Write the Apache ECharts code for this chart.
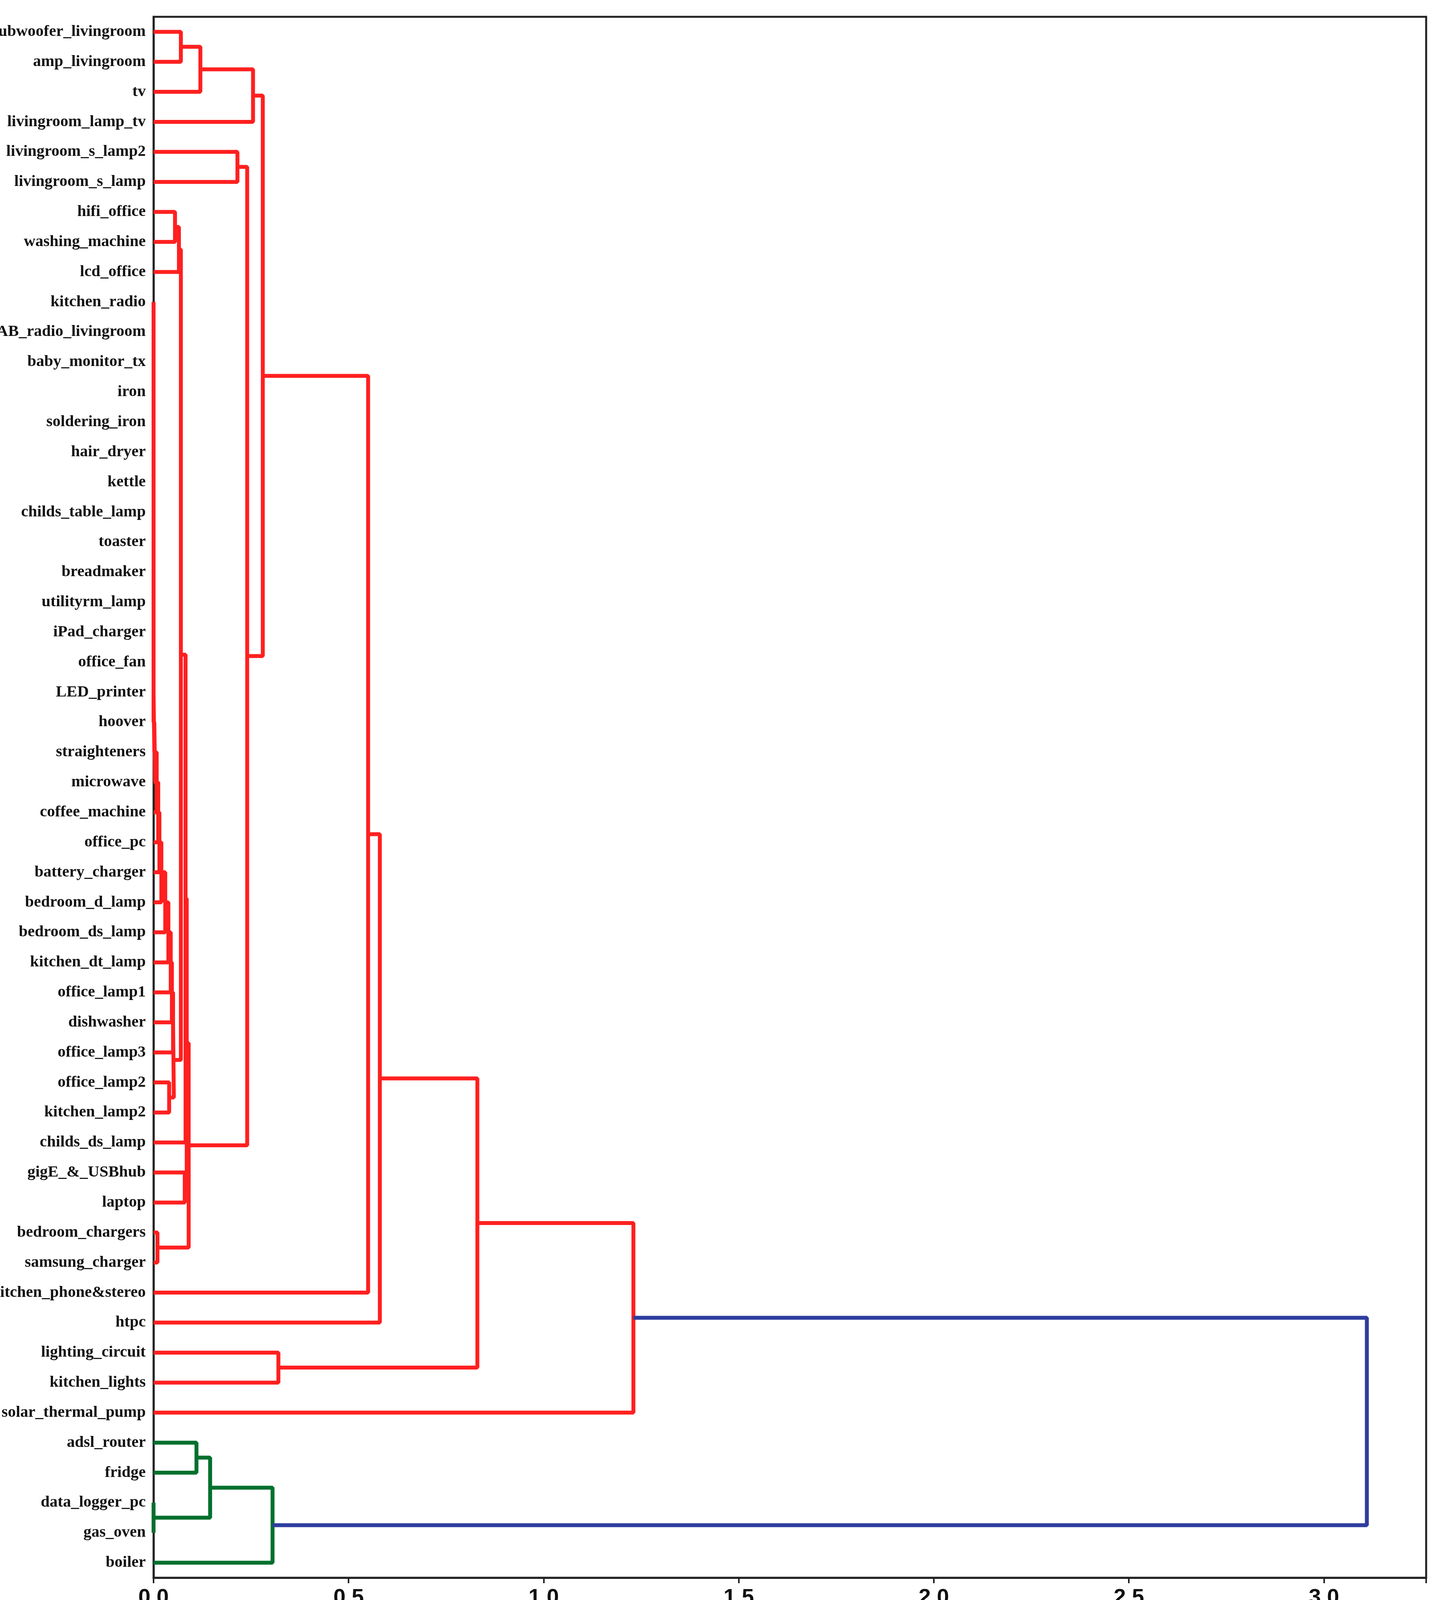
<!DOCTYPE html>
<html>
<head>
<meta charset="utf-8">
<script src="https://cdn.jsdelivr.net/npm/echarts@6/dist/echarts.min.js"></script>
<style>html,body{margin:0;padding:0;background:#fff}#main{width:3688px;height:4195px}</style>
</head>
<body>
<div id="main"></div>
<script>
// leaf labels, top to bottom
var leaves = ['subwoofer_livingroom','amp_livingroom','tv','livingroom_lamp_tv','livingroom_s_lamp2','livingroom_s_lamp',
  'hifi_office','washing_machine','lcd_office','kitchen_radio','DAB_radio_livingroom','baby_monitor_tx','iron',
  'soldering_iron','hair_dryer','kettle','childs_table_lamp','toaster','breadmaker','utilityrm_lamp','iPad_charger',
  'office_fan','LED_printer','hoover','straighteners','microwave','coffee_machine','office_pc','battery_charger',
  'bedroom_d_lamp','bedroom_ds_lamp','kitchen_dt_lamp','office_lamp1','dishwasher','office_lamp3','office_lamp2',
  'kitchen_lamp2','childs_ds_lamp','gigE_&_USBhub','laptop','bedroom_chargers','samsung_charger',
  'kitchen_phone&stereo','htpc','lighting_circuit','kitchen_lights','solar_thermal_pump','adsl_router','fridge',
  'data_logger_pc','gas_oven','boiler'];

// merges: [name, left, right, height]  (left/right = leaf index or merge name)
var redMerges = [
  ['a',0,1,0.07],['b','a',2,0.12],['c','b',3,0.255],['d',4,5,0.215],
  ['h1',6,7,0.055],['h2','h1',8,0.065],
  ['z1',9,10,0],['z2','z1',11,0],['z3','z2',12,0],['z4','z3',13,0],['z5','z4',14,0],['z6','z5',15,0],
  ['z7','z6',16,0],['z8','z7',17,0],['z9','z8',18,0],['z10','z9',19,0],['z11','z10',20,0],['z12','z11',21,0],
  ['z13','z12',22,0],['z14','z13',23,0],
  ['s1','z14',24,0.002],['s2','s1',25,0.004],['s3','s2',26,0.008],['s4','s3',27,0.012],['s5','s4',28,0.015],
  ['s6','s5',29,0.02],['s7','s6',30,0.03],['s8','s7',31,0.038],['s9','s8',32,0.044],['s10','s9',33,0.047],
  ['s11','s10',34,0.05],['q',35,36,0.04],['s12','s11','q',0.052],
  ['k','h2','s12',0.07],['l',38,39,0.08],['k2','k',37,0.082],['k3','k2','l',0.085],['bc',40,41,0.01],
  ['g','k3','bc',0.09],['f','d','g',0.24],['t','c','f',0.28],['u','t',42,0.55],['v','u',43,0.58],
  ['w',44,45,0.32],['x','v','w',0.83],['y','x',46,1.23]
];
var greenMerges = [['g1',47,48,0.11],['dg',49,50,0],['g2','g1','dg',0.145],['g3','g2',51,0.305]];
var blueMerges = [['r','y','g3',3.11]];

var xTicks = [0,0.5,1.0,1.5,2.0,2.5,3.0];

var nodes = {};
function node(id){ return typeof id === 'number' ? {y:id,h:0} : nodes[id]; }
var series = [];
function addMerges(list, color){
  list.forEach(function(m){
    var L = node(m[1]), R = node(m[2]);
    nodes[m[0]] = {y:(L.y+R.y)/2, h:m[3]};
    series.push({
      type:'line', showSymbol:false, animation:false, yAxisIndex:1,
      lineStyle:{color:color,width:10},
      data:[[L.h,L.y],[m[3],L.y],[m[3],R.y],[R.h,R.y]]
    });
  });
}
addMerges(redMerges,'#ff2020');
addMerges(greenMerges,'#00702e');
addMerges(blueMerges,'#2e3d9e');

var chart = echarts.init(document.getElementById('main'));
chart.setOption({
  backgroundColor:'#fff',
  grid:{left:393,right:38,top:43,bottom:156,containLabel:false,outerBoundsMode:'none',
    show:true,borderColor:'#222',borderWidth:5,backgroundColor:'transparent'},
  xAxis:{type:'value',min:0,max:3.262,interval:0.5,
    axisLine:{show:true,onZero:false,lineStyle:{color:'#222',width:5}},
    axisTick:{show:true,length:14,lineStyle:{color:'#222',width:4}},
    splitLine:{show:false},
    axisLabel:{margin:24,fontSize:56,color:'#111',fontFamily:'Liberation Sans Narrow, Liberation Sans',fontWeight:'bold',
      formatter:function(v){ return xTicks.indexOf(v)>=0 ? v.toFixed(1) : ''; }}},
  yAxis:[
    {type:'category',data:leaves,inverse:true,
      axisLine:{show:true,onZero:false,lineStyle:{color:'#222',width:5}},axisTick:{show:false},
      axisLabel:{fontSize:41,color:'#111',fontFamily:'Liberation Serif',fontWeight:'bold',margin:20}},
    {type:'value',min:-0.5,max:51.5,inverse:true,show:false}
  ],
  series:series
});
</script>
</body>
</html>
